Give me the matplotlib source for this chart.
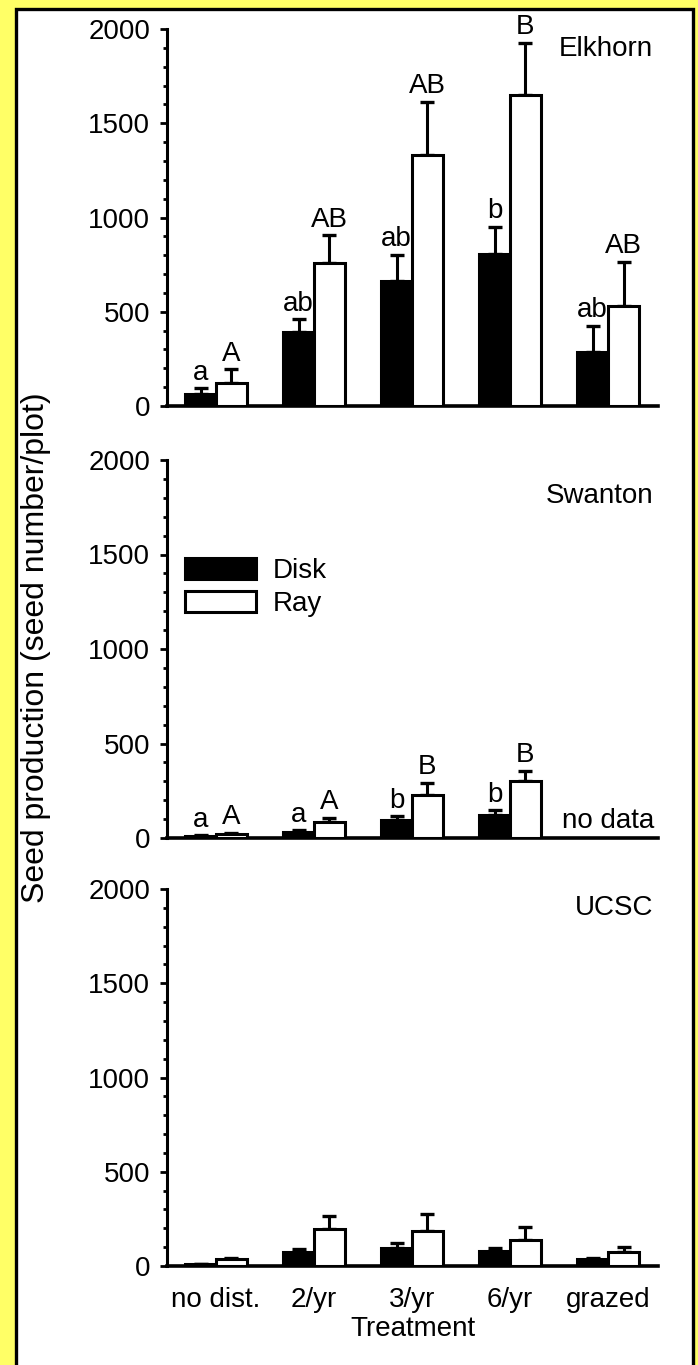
import numpy as np
import matplotlib
matplotlib.use('Agg')
import matplotlib.pyplot as plt
from matplotlib.patches import Rectangle

plt.rcParams['font.family'] = ['Liberation Sans', 'DejaVu Sans']

# Dados
tratamentos = ['no dist.', '2/yr', '3/yr', '6/yr', 'grazed']
locais = ['Elkhorn', 'Swanton', 'UCSC']

disk_media = {
    'Elkhorn': [62, 390, 665, 805, 288],
    'Swanton': [9, 32, 93, 123, np.nan],
    'UCSC': [10, 72, 98, 77, 39],
}
disk_erro = {
    'Elkhorn': [32, 69, 135, 145, 136],
    'Swanton': [5, 8, 21, 23, np.nan],
    'UCSC': [3, 16, 23, 18, 5],
}
ray_media = {
    'Elkhorn': [124, 760, 1330, 1650, 530],
    'Swanton': [23, 84, 228, 303, np.nan],
    'UCSC': [39, 198, 184, 139, 74],
}
ray_erro = {
    'Elkhorn': [70, 145, 285, 275, 235],
    'Swanton': [4, 21, 62, 53, np.nan],
    'UCSC': [3, 67, 90, 66, 28],
}
letras_disk = {
    'Elkhorn': ['a', 'ab', 'ab', 'b', 'ab'],
    'Swanton': ['a', 'a', 'b', 'b', ''],
    'UCSC': ['', '', '', '', ''],
}
letras_ray = {
    'Elkhorn': ['A', 'AB', 'AB', 'B', 'AB'],
    'Swanton': ['A', 'A', 'B', 'B', ''],
    'UCSC': ['', '', '', '', ''],
}

W, H = 698, 1365
fig = plt.figure(figsize=(W / 100, H / 100), dpi=100)
fig.patch.set_facecolor('#ffff66')
fig.add_artist(Rectangle((16 / W, -0.01), (693 - 16) / W, 1.01 - 9 / H,
                         transform=fig.transFigure, facecolor='white',
                         edgecolor='black', lw=2.4, zorder=-10))

fs = 20
largura = 0.316
x = np.arange(len(tratamentos))
paineis = [(29, 406), (460, 838), (889, 1266)]
pos_nome = [0.948, 0.905, 0.95]

for k, (local, (topo, base)) in enumerate(zip(locais, paineis)):
    ax = fig.add_axes([167 / W, 1 - base / H, 491 / W, (base - topo) / H])
    ax.patch.set_alpha(0)
    dm = np.array(disk_media[local], dtype=float)
    de = np.array(disk_erro[local], dtype=float)
    rm = np.array(ray_media[local], dtype=float)
    re = np.array(ray_erro[local], dtype=float)

    b1 = ax.bar(x - largura / 2, dm, largura, color='black', edgecolor='black',
                lw=2.2, label='Disk', zorder=3)
    b2 = ax.bar(x + largura / 2, rm, largura, color='white', edgecolor='black',
                lw=2.2, label='Ray', zorder=3)
    ax.errorbar(x - largura / 2, dm, yerr=[np.zeros_like(de), de], fmt='none',
                ecolor='black', elinewidth=2.2, capsize=4.8, capthick=2.4, zorder=2)
    ax.errorbar(x + largura / 2, rm, yerr=[np.zeros_like(re), re], fmt='none',
                ecolor='black', elinewidth=2.2, capsize=4.8, capthick=2.4, zorder=2)

    for i in range(len(x)):
        if letras_disk[local][i]:
            ax.annotate(letras_disk[local][i], (x[i] - largura / 2, dm[i] + de[i]),
                        xytext=(0, 2), textcoords='offset points', ha='center',
                        va='bottom', fontsize=fs, annotation_clip=False)
        if letras_ray[local][i]:
            ax.annotate(letras_ray[local][i], (x[i] + largura / 2, rm[i] + re[i]),
                        xytext=(0, 2), textcoords='offset points', ha='center',
                        va='bottom', fontsize=fs, annotation_clip=False)

    ax.set_xlim(-0.5, 4.51)
    ax.set_ylim(0, 2000)
    ax.set_yticks([0, 500, 1000, 1500, 2000])
    ax.set_yticks(np.arange(0, 2001, 100), minor=True)
    ax.tick_params(axis='y', which='major', length=5, width=2, labelsize=fs, pad=7)
    ax.tick_params(axis='y', which='minor', length=3.2, width=2)
    ax.tick_params(axis='x', length=0, labelsize=fs, pad=15)
    ax.set_xticks(x)
    if k < 2:
        ax.set_xticklabels([])
    else:
        ax.set_xticklabels(tratamentos)
        ax.set_xlabel('Treatment', fontsize=fs, labelpad=2)
    for s in ['top', 'right']:
        ax.spines[s].set_visible(False)
    ax.spines['left'].set_linewidth(2.2)
    ax.spines['bottom'].set_linewidth(2.6)

    ax.text(0.99, pos_nome[k], local, transform=ax.transAxes, ha='right',
            va='center', fontsize=fs)

    if local == 'Swanton':
        ax.text(4, 55, 'no data', ha='center', va='baseline', fontsize=fs)
        ax.legend(handles=[b1, b2], loc='upper left', bbox_to_anchor=(0.037, 0.742),
                  frameon=False, fontsize=fs, handlelength=2.55, handleheight=0.8,
                  handletextpad=0.6, labelspacing=0.25, borderpad=0, borderaxespad=0)

fig.text(36 / W, 1 - 648 / H, 'Seed production (seed number/plot)', rotation=90,
         ha='center', va='center', fontsize=23)

plt.savefig('out.png', dpi=100, facecolor=fig.get_facecolor())
